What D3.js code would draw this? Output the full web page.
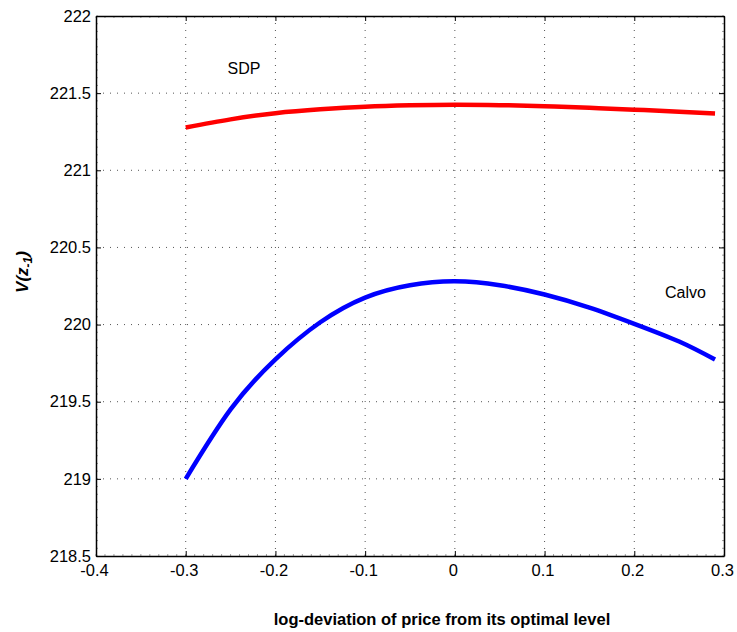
<!DOCTYPE html>
<html><head><meta charset="utf-8">
<script src="https://cdn.jsdelivr.net/npm/d3@7"></script>
<style>body{margin:0;background:#fff}svg{display:block;font-family:"Liberation Sans",Arial,sans-serif}</style>
</head><body>
<svg id="c" width="737" height="632"></svg>
<script>
const xValues = [-0.30,-0.25,-0.20,-0.15,-0.10,-0.05,0.00,0.05,0.10,0.15,0.20,0.25,0.29];
const sdpValues = [221.277,221.33,221.37,221.395,221.412,221.421,221.425,221.422,221.415,221.405,221.393,221.38,221.368];
const calvoValues = [219.00,219.45,219.775,220.015,220.175,220.255,220.28,220.255,220.195,220.11,220.005,219.89,219.773];
const xTicks = [-0.4,-0.3,-0.2,-0.1,0,0.1,0.2,0.3];
const yTicks = [218.5,219,219.5,220,220.5,221,221.5,222];
const seriesLabels = [{name:"SDP", x:-0.235, y:221.623},{name:"Calvo", x:0.257, y:220.175}];

const svg = d3.select("#c");
const L=96, R=724, T=16, B=556;
const x = d3.scaleLinear().domain([-0.4,0.3]).range([L,R]);
const y = d3.scaleLinear().domain([218.5,222]).range([B,T]);

// grid
const g = svg.append("g");
g.selectAll(".gx").data(xTicks.slice(1,-1)).enter().append("line")
 .attr("x1",d=>x(d)).attr("x2",d=>x(d)).attr("y1",T).attr("y2",B)
 .attr("stroke","#555").attr("stroke-width",1).attr("stroke-dasharray","1,6");
g.selectAll(".gy").data(yTicks.slice(1,-1)).enter().append("line")
 .attr("y1",d=>y(d)).attr("y2",d=>y(d)).attr("x1",L).attr("x2",R)
 .attr("stroke","#555").attr("stroke-width",1).attr("stroke-dasharray","1,6");

// minor ticks
const xMinor = d3.range(-0.4,0.3001,0.01);
const yMinor = d3.range(218.5,222.0001,0.05);
const mt = svg.append("g").attr("stroke","#888").attr("stroke-width",0.8);
xMinor.forEach(v=>{
  mt.append("line").attr("x1",x(v)).attr("x2",x(v)).attr("y1",B).attr("y2",B-2);
  mt.append("line").attr("x1",x(v)).attr("x2",x(v)).attr("y1",T).attr("y2",T+2);
});
yMinor.forEach(v=>{
  mt.append("line").attr("y1",y(v)).attr("y2",y(v)).attr("x1",L).attr("x2",L+2);
  mt.append("line").attr("y1",y(v)).attr("y2",y(v)).attr("x1",R).attr("x2",R-2);
});

// axes
const fs = "16.5px";
const fmt = d => String(d);
const ax = svg.append("g").attr("transform",`translate(0,${B})`)
 .call(d3.axisBottom(x).tickValues(xTicks).tickFormat(fmt).tickSizeInner(-5).tickSizeOuter(0));
const ay = svg.append("g").attr("transform",`translate(${L},0)`)
 .call(d3.axisLeft(y).tickValues(yTicks).tickFormat(fmt).tickSizeInner(-5).tickSizeOuter(0).tickPadding(5));
const axT = svg.append("g").attr("transform",`translate(0,${T})`)
 .call(d3.axisTop(x).tickValues(xTicks).tickFormat("").tickSizeInner(-5).tickSizeOuter(0));
const ayR = svg.append("g").attr("transform",`translate(${R},0)`)
 .call(d3.axisRight(y).tickValues(yTicks).tickFormat("").tickSizeInner(-5).tickSizeOuter(0));
[ax,ay,axT,ayR].forEach(a=>{
  a.selectAll(".domain").attr("stroke","#000").attr("stroke-width",1.5);
  a.selectAll(".tick line").attr("stroke","#000");
  a.selectAll("text").attr("font-size",fs).attr("fill","#000").attr("font-family","Liberation Sans, Arial, sans-serif");
});
ax.selectAll("text").attr("y",20).attr("dy","0").attr("dx","-2");
ay.selectAll("text").attr("dy","0.32em");

// lines
const line = d3.line().x((d,i)=>x(xValues[i])).y(d=>y(d)).curve(d3.curveNatural);
svg.append("path").datum(sdpValues).attr("d",line).attr("fill","none").attr("stroke","#ff0000").attr("stroke-width",4.5);
svg.append("path").datum(calvoValues).attr("d",line).attr("fill","none").attr("stroke","#0000ff").attr("stroke-width",4.5);

// labels
svg.selectAll(".sl").data(seriesLabels).enter().append("text")
 .attr("x",d=>x(d.x)).attr("y",d=>y(d.y)).attr("text-anchor","middle")
 .attr("font-size","16px").attr("fill","#000").text(d=>d.name);

svg.append("text").attr("x",442).attr("y",625).attr("text-anchor","middle")
 .attr("font-size","16.5px").attr("font-weight","bold").attr("fill","#000")
 .text("log-deviation of price from its optimal level");

const yl = svg.append("text").attr("transform","translate(28,272) rotate(-90)")
 .attr("text-anchor","middle").attr("font-size","17px").attr("font-weight","bold").attr("font-style","italic").attr("fill","#000");
yl.append("tspan").text("V(z");
yl.append("tspan").attr("font-size","12px").attr("dy","4").text("-1");
yl.append("tspan").attr("dy","-4").text(")");
</script>
</body></html>
